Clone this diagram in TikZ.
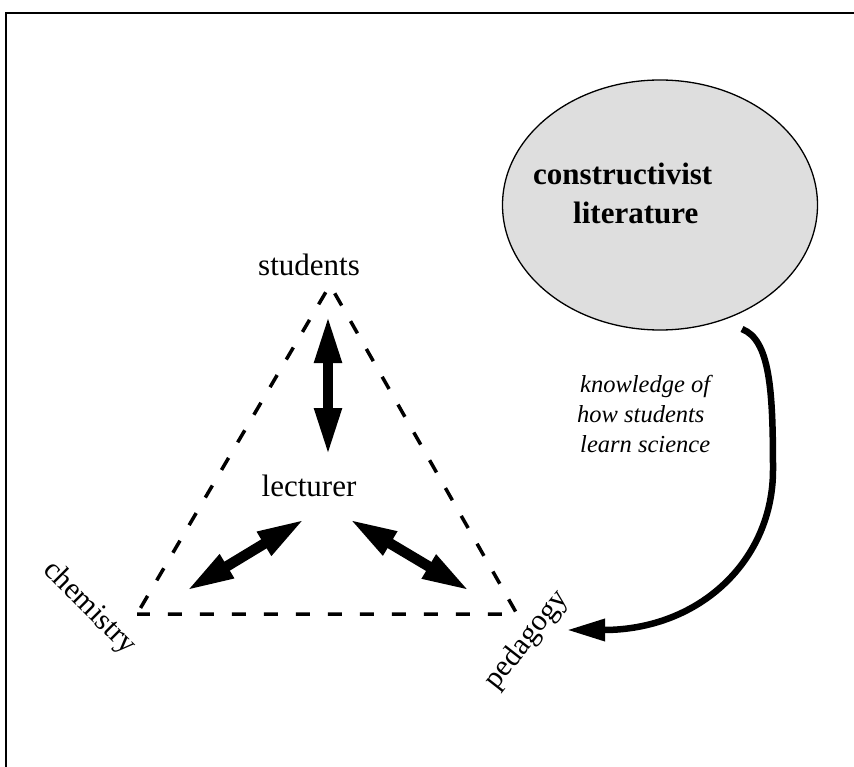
\documentclass[tikz,border=0pt]{standalone}
\usepackage{fontspec}
\setmainfont{Liberation Serif}
\usetikzlibrary{arrows.meta,shapes.geometric}
\definecolor{litgray}{RGB}{222,222,222}
\tikzset{
  frame/.style={line width=2pt},
  lbl/.style={inner sep=0pt, font=\fontsize{31}{37}\selectfont},
  boldlbl/.style={inner sep=0pt, font=\bfseries\fontsize{31}{37}\selectfont},
  itlbl/.style={inner sep=0pt, font=\itshape\fontsize{24.5}{30}\selectfont},
  sidelbl/.style={inner sep=0pt, font=\fontsize{30}{36}\selectfont},
  dashtri/.style={line width=3.5pt, dash pattern=on 14pt off 18pt, dash phase=-7pt},
  bothway/.style={line width=10.5pt,
    {Triangle[length=48pt,width=25pt]}-{Triangle[length=48pt,width=25pt]}},
  feed/.style={line width=6.5pt, -{Triangle[length=38pt,width=21pt]}},
  litblob/.style={ellipse, draw, line width=1.3pt, fill=litgray,
    minimum width=315pt, minimum height=250pt, inner sep=0pt}
}
\begin{document}
\begin{tikzpicture}[x=1pt,y=-1pt]
  \useasboundingbox (0,0) rectangle (854,767);
  % outer frame (runs off the page on the right and at the bottom)
  \draw[frame] (6,13) rectangle (880,800);

  % literature blob
  \node[litblob] (lit) at (660,205) {};
  \node[boldlbl, anchor=base west] (lit1) at (533,185) {constructivist};
  \node[boldlbl, anchor=base west] (lit2) at (573,224) {literature};

  % triangle corners
  \coordinate (apex) at (330,285);
  \coordinate (chemC) at (137,614);
  \coordinate (pedC) at (517,614);
  \draw[dashtri] (chemC) -- (apex) -- (pedC) -- cycle;

  % labels
  \node[lbl, anchor=base] (students) at (309,276) {students};
  \node[lbl, anchor=base] (lecturer) at (309,496) {lecturer};
  \node[sidelbl, rotate=-45] (chemistry) at (89,608) {chemistry};
  \node[sidelbl, rotate=52] (pedagogy) at (527,640) {pedagogy};

  % two-way arrows around the lecturer
  \coordinate (sTop) at (328,315);
  \coordinate (sBot) at (328,456);
  \coordinate (cLow) at (186,591);
  \coordinate (cHigh) at (305,519);
  \coordinate (pHigh) at (349,519);
  \coordinate (pLow) at (470,591);
  \draw[bothway] (sTop) -- (sBot);
  \draw[bothway] (cLow) -- (cHigh);
  \draw[bothway] (pHigh) -- (pLow);

  % feed from the literature to pedagogy
  \coordinate (feedStart) at (742,329);
  \coordinate (feedMid) at (773,470);
  \coordinate (feedEnd) at (567,630);
  \draw[feed] (feedStart) .. controls (770,340) and (773,390) .. (feedMid)
    .. controls (773,560) and (700,630) .. (feedEnd);

  \node[itlbl, anchor=base west] (know1) at (580,392) {knowledge of};
  \node[itlbl, anchor=base west] (know2) at (577,422) {how students};
  \node[itlbl, anchor=base west] (know3) at (580,452) {learn science};
\end{tikzpicture}
\end{document}
